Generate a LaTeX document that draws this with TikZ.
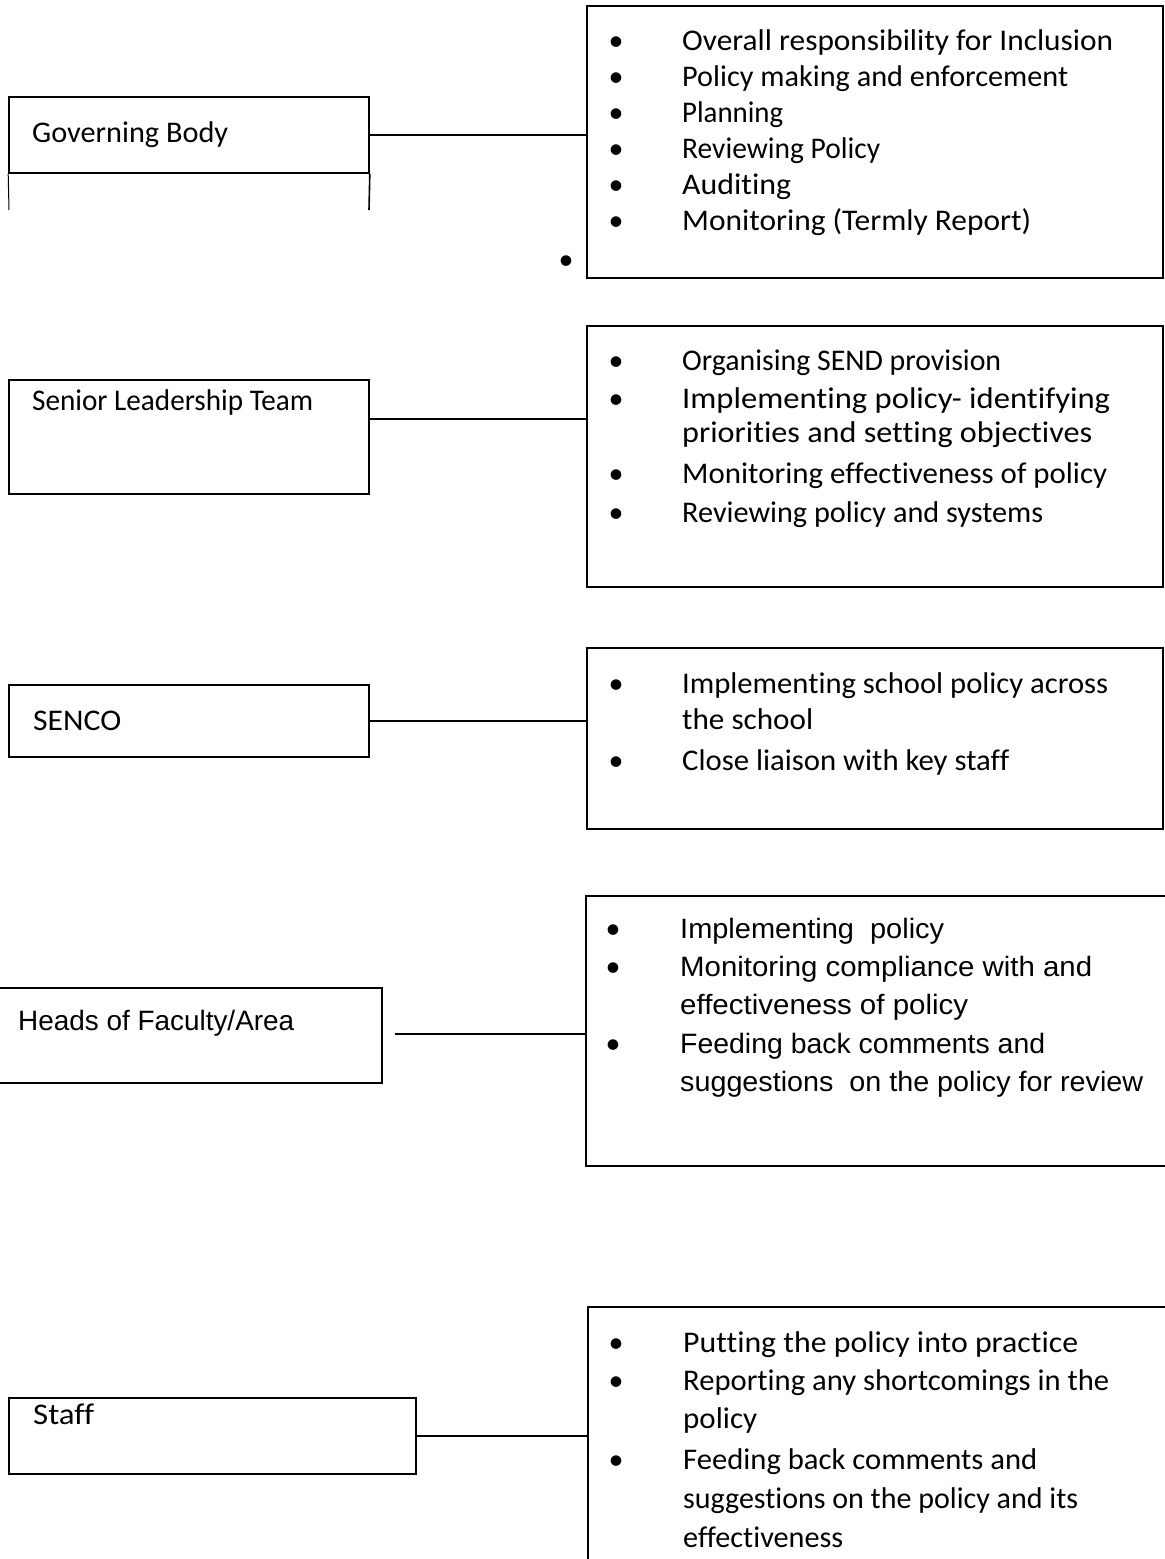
\documentclass[tikz,border=0pt]{standalone}
\usepackage{fontspec}
\usepackage{graphicx}
\newfontfamily\carl[Ligatures={NoCommon}]{Carlito}
\newfontfamily\arl{Liberation Sans}
\newcommand\fw[2]{\resizebox{#1pt}{\height}{#2}}
\begin{document}
\begin{tikzpicture}[x=1pt,y=-1pt,
  lbox/.style={draw, line width=1.6pt, rectangle, inner sep=0pt},
  rbox/.style={draw, line width=2pt, rectangle, inner sep=0pt},
  ghost/.style={draw=none, rectangle, inner sep=0pt},
  link/.style={line width=1.2pt},
  ctext/.style={anchor=base west, inner sep=0pt, font=\carl\fontsize{30}{36}\selectfont},
  atext/.style={anchor=base west, inner sep=0pt, font=\arl\fontsize{28}{34}\selectfont},
  cbul/.style={anchor=base, inner sep=0pt, font=\carl\fontsize{30}{36}\selectfont}]
\useasboundingbox (0,0) rectangle (1165,1559);
\fill[white] (0,0) rectangle (1165,1559);

% ---------- Governing Body ----------
\node[lbox, minimum width=360pt, minimum height=76pt] (gb) at (189,135) {};
\coordinate (gbl) at (9,210);
\coordinate (gbr) at (369,210);
\draw[line width=1pt] (gb.south west) -- (gbl);
\draw[line width=1.6pt] (gb.south east) -- (gbr);
\node[ctext] (gbt) at (32,142) {\fw{196}{Governing Body}};
\node[rbox, minimum width=576pt, minimum height=272pt] (r1) at (875,142) {};
\draw[link] (gb.east) -- (gb.east -| r1.west);
\foreach \y/\w/\t [count=\i] in {50/431/{Overall responsibility for Inclusion},
  86/386/{Policy making and enforcement},
  122/101/{Planning},
  158/198/{Reviewing Policy},
  194/109/{Auditing},
  230/349/{Monitoring (Termly Report)}}{
  \node[cbul] (b1\i) at (616,\y) {•};
  \node[ctext] (t1\i) at (682,\y) {\fw{\w}{\t}};
}
\node[cbul] (stray) at (566,269) {•};

% ---------- Senior Leadership Team ----------
\node[lbox, minimum width=360pt, minimum height=114pt] (slt) at (189,437) {};
\node[ctext] (sltt) at (32,410) {\fw{281}{Senior Leadership Team}};
\node[rbox, minimum width=576pt, minimum height=261pt] (r2) at (875,456.5) {};
\coordinate (c2) at (369,419);
\draw[link, line width=1.6pt] (c2) -- (c2 -| r2.west);
\foreach \y/\w/\t/\b [count=\i] in {370/319/{Organising SEND provision}/1,
  408/428/{Implementing policy- identifying}/1,
  442/410/{priorities and setting objectives}/0,
  483/425/{Monitoring effectiveness of policy}/1,
  522/361/{Reviewing policy and systems}/1}{
  \ifnum\b=1 \node[cbul] (b2\i) at (616,\y) {•};\fi
  \node[ctext] (t2\i) at (682,\y) {\fw{\w}{\t}};
}

% ---------- SENCO ----------
\node[lbox, minimum width=360pt, minimum height=72pt] (sen) at (189,721) {};
\node[ctext] (sent) at (33,730) {\fw{88}{SENCO}};
\node[rbox, minimum width=576pt, minimum height=181pt] (r3) at (875,738.5) {};
\draw[link] (sen.east) -- (sen.east -| r3.west);
\foreach \y/\w/\t/\b [count=\i] in {693/426/{Implementing school policy across}/1,
  729/131/{the school}/0,
  770/327/{Close liaison with key staff}/1}{
  \ifnum\b=1 \node[cbul] (b3\i) at (616,\y) {•};\fi
  \node[ctext] (t3\i) at (682,\y) {\fw{\w}{\t}};
}

% ---------- Heads of Faculty/Area ----------
\node[ghost, minimum width=382pt, minimum height=95pt] (hof) at (191,1035.5) {};
\draw[line width=2.4pt] (hof.north west) -- (hof.north east) -- (hof.south east) -- (hof.south west);
\node[atext] (hoft) at (18,1030) {\fw{276}{Heads of Faculty/Area}};
\node[ghost, minimum width=579pt, minimum height=270pt] (r4) at (875.5,1031) {};
\draw[line width=2.2pt] (r4.north east) -- (r4.north west) -- (r4.south west) -- (r4.south east);
\coordinate (c4) at (395,1034);
\draw[line width=2pt] (c4) -- (c4 -| r4.west);
\foreach \y/\w/\t/\b [count=\i] in {938/264/{Implementing~ policy}/1,
  976/412/{Monitoring compliance with and}/1,
  1014/288/{effectiveness of policy}/0,
  1053/365/{Feeding back comments and}/1,
  1091/463/{suggestions~ on the policy for review}/0}{
  \ifnum\b=1 \node[cbul] (b4\i) at (613,\y) {•};\fi
  \node[atext] (t4\i) at (680,\y) {\fw{\w}{\t}};
}

% ---------- Staff ----------
\node[lbox, line width=1.3pt, minimum width=407pt, minimum height=76pt] (stf) at (212.5,1436) {};
\node[ctext] (stft) at (33,1424) {\fw{61}{Staff}};
\node[ghost, minimum width=577pt, minimum height=252pt] (r5) at (876.5,1433) {};
\draw[line width=2pt] (r5.north east) -- (r5.north west) -- (r5.south west);
\draw[link] (stf.east) -- (stf.east -| r5.west);
\foreach \y/\w/\t/\b [count=\i] in {1352/395/{Putting the policy into practice}/1,
  1390/426/{Reporting any shortcomings in the}/1,
  1428/74/{policy}/0,
  1469/354/{Feeding back comments and}/1,
  1508/395/{suggestions on the policy and its}/0,
  1547/160/{effectiveness}/0}{
  \ifnum\b=1 \node[cbul] (b5\i) at (616,\y) {•};\fi
  \node[ctext] (t5\i) at (683,\y) {\fw{\w}{\t}};
}
\end{tikzpicture}
\end{document}
